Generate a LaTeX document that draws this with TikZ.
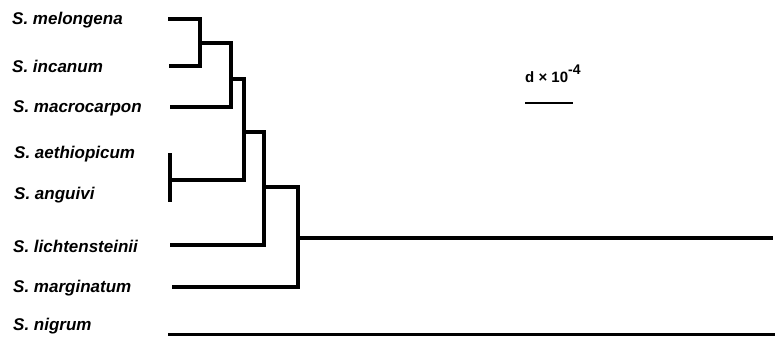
\documentclass[tikz,border=0pt]{standalone}
\usepackage{fontspec}
\setmainfont{Liberation Sans}
\begin{document}
\begin{tikzpicture}[x=1pt,y=-1pt,
  branch/.style={line width=4pt,line join=miter},
  taxon/.style={anchor=west,inner sep=0pt,font=\fontsize{17}{20}\selectfont\bfseries\itshape},
  scalelbl/.style={anchor=west,inner sep=0pt,font=\fontsize{15}{17}\selectfont\bfseries}]
\useasboundingbox (0,0) rectangle (775,338);
% labels
\node[taxon] (Lmel) at (12,20) {S. melongena};
\node[taxon] (Linc) at (12,66) {S. incanum};
\node[taxon] (Lmac) at (13,108) {S. macrocarpon};
\node[taxon] (Laet) at (14,154) {S. aethiopicum};
\node[taxon] (Lang) at (14,195) {S. anguivi};
\node[taxon] (Llic) at (13,246) {S. lichtensteinii};
\node[taxon] (Lmar) at (13,288) {S. marginatum};
\node[taxon] (Lnig) at (13,326) {S. nigrum};
% tips
\coordinate (mel) at (168,19);
\coordinate (inc) at (169,66);
\coordinate (mac) at (170,107);
\coordinate (aet) at (170,153);
\coordinate (ang) at (170,202);
\coordinate (aa) at (170,180);
\coordinate (lic) at (170,245);
\coordinate (mar) at (172,287);
\coordinate (nig) at (168,334);
\coordinate (nigend) at (775,334);
% internal nodes
\coordinate (n1) at (200,43);
\coordinate (n2) at (231,79);
\coordinate (n3) at (244,132);
\coordinate (n4) at (264,187);
\coordinate (n5) at (298,238);
\coordinate (root) at (773,238);
% tree
\draw[branch] (mel) -| (n1) |- (inc);
\draw[branch] (n1) -| (n2) |- (mac);
\draw[branch] (aet) -- (ang);
\draw[branch] (n2) -| (n3) |- (aa);
\draw[branch] (n3) -| (n4) |- (lic);
\draw[branch] (n4) -| (n5) |- (mar);
\draw[branch] (n5) -- (root);
\draw[line width=3pt] (nig) -- (nigend);
% scale
\node[scalelbl] (sc) at (525,74) {d × 10\raisebox{0.5em}{\fontsize{14}{16}\selectfont -4}};
\coordinate (sb1) at (525,103);
\coordinate (sb2) at (573,103);
\draw[line width=2pt] (sb1) -- (sb2);
\end{tikzpicture}
\end{document}
